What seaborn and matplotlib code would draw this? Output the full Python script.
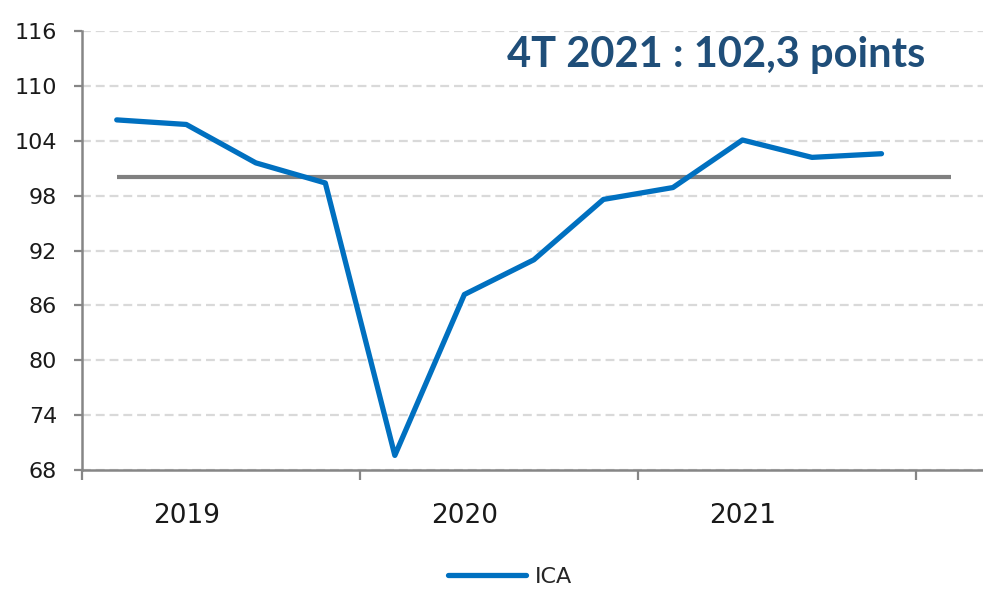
import numpy as np
import pandas as pd
import matplotlib
matplotlib.use("Agg")
import matplotlib.pyplot as plt
import seaborn as sns

# ICA quarterly values, 2019 T1 -> 2021 T4
quarters = ["2019T1", "2019T2", "2019T3", "2019T4",
            "2020T1", "2020T2", "2020T3", "2020T4",
            "2021T1", "2021T2", "2021T3", "2021T4"]
ica = [106.3, 105.8, 101.6, 99.4, 69.6, 87.2, 91.0, 97.6, 98.9, 104.1, 102.2, 102.6]
reference = 100
years = ["2019", "2020", "2021"]
y_ticks = [68, 74, 80, 86, 92, 98, 104, 110, 116]
title_text = "4T 2021 : 102,3 points"

df = pd.DataFrame({"pos": np.arange(len(quarters)), "quarter": quarters, "ICA": ica})

sns.set_style("white")
plt.rcParams["font.family"] = ["DejaVu Sans"]

fig = plt.figure(figsize=(9.83, 5.89), dpi=100)
ax = fig.add_axes([0.0834, 0.202, 0.9166, 0.745])

axis_grey = "#868686"
blue = "#0070C0"

# grid
for v in y_ticks:
    ax.axhline(v, color="#D9D9D9", lw=1.6, ls=(0, (4, 2.2)), zorder=0)

# reference line at 100 (extends one quarter past the data)
ax.hlines(reference, xmin=0, xmax=len(quarters), color="#808080", lw=3.0, zorder=2)

sns.lineplot(data=df, x="pos", y="ICA", color=blue, lw=3.8, ax=ax,
             label="ICA", zorder=3, legend=False)

ax.set_xlim(-0.5, len(quarters) + 0.46)
ax.set_ylim(y_ticks[0], y_ticks[-1])
ax.set_yticks(y_ticks)
ax.set_yticklabels([str(v) for v in y_ticks], fontsize=16, color="#1a1a1a")

# year separators as major ticks, year labels as minor ticks
n_years = len(years)
ax.set_xticks([-0.5 + 4 * k for k in range(n_years + 1)])
ax.set_xticklabels([])
ax.set_xticks([1 + 4 * k for k in range(n_years)], minor=True)
ax.set_xticklabels(years, minor=True, fontsize=19, color="#1a1a1a")
ax.tick_params(axis="x", which="major", bottom=True, length=7, width=1.6,
               color=axis_grey, direction="out")
ax.tick_params(axis="x", which="minor", bottom=True, length=0, pad=24)
ax.tick_params(axis="y", left=True, length=6, width=1.6, color=axis_grey,
               direction="out", pad=12)

for side in ["top", "right"]:
    ax.spines[side].set_visible(False)
for side in ["left", "bottom"]:
    ax.spines[side].set_color(axis_grey)
    ax.spines[side].set_linewidth(1.8)
ax.set_xlabel("")
ax.set_ylabel("")

fig.text(0.729, 0.907, title_text, ha="center", va="center",
         fontsize=30, fontweight="bold", color="#1F4E79", family=["Lato", "DejaVu Sans"])

handles, labels = ax.get_lines()[-1:], ["ICA"]
fig.legend(handles, labels, loc="center", bbox_to_anchor=(0.519, 0.02), frameon=False,
           fontsize=16, handlelength=3.5, handletextpad=0.4)

fig.savefig("out.png", dpi=100)
